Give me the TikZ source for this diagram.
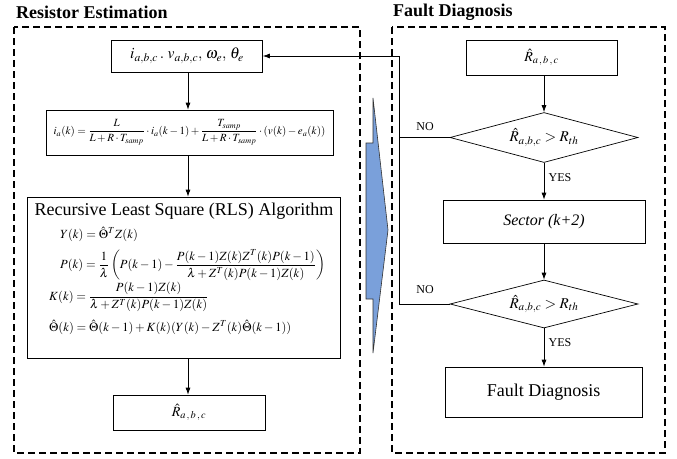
\documentclass[tikz,border=0pt]{standalone}
\usepackage{amsmath}
\usepackage{mathptmx}
\usepackage{fontspec}
\setmainfont{Liberation Serif}
\usetikzlibrary{arrows.meta,shapes.geometric}
\definecolor{arrowblue}{RGB}{122,160,218}
\begin{document}
\begin{tikzpicture}[x=1pt,y=-1pt,
  box/.style={draw,line width=0.7pt,inner sep=0pt,align=center},
  dbox/.style={draw,line width=1.1pt,dash pattern=on 7pt off 4pt},
  dec/.style={draw,line width=0.7pt,diamond,inner sep=0pt,minimum width=188pt,minimum height=50pt,aspect=3.76},
  arr/.style={line width=0.7pt,-{Latex[length=7pt,width=5pt]}},
  ln/.style={line width=0.7pt},
  ttl/.style={font=\fontsize{18}{21}\selectfont\bfseries,anchor=west,inner sep=0pt},
  lbl/.style={font=\fontsize{12}{14}\selectfont,inner sep=0pt},
  eqn/.style={anchor=west,inner sep=0pt,font=\fontsize{12.5}{15}\selectfont}]
\useasboundingbox (0,0) rectangle (677,458);
% titles
\node[ttl] (t1) at (16,12) {Resistor Estimation};
\node[ttl] (t2) at (393,12) {Fault Diagnosis};
% dashed panels
\draw[dbox] (14,27) rectangle (360,453);
\draw[dbox] (392,27) rectangle (665,453);
% left column
\node[box,minimum width=151pt,minimum height=32pt,font=\fontsize{15.6}{18}\selectfont] (in) at (187,56) {$i_{a,b,c}\,.\;v_{a,b,c},\,\omega_{e},\,\theta_{e}$};
\node[box,minimum width=287pt,minimum height=45pt,font=\fontsize{11}{13}\selectfont] (eq) at (189.5,132.5)
 {$i_a(k)=\dfrac{L}{L+R\cdot T_{samp}}\cdot i_a(k-1)+\dfrac{T_{samp}}{L+R\cdot T_{samp}}\cdot (v(k)-e_a(k))$};
\node[box,minimum width=313pt,minimum height=161pt] (rls) at (183.5,277.5) {};
\node[inner sep=0pt,font=\fontsize{18}{21}\selectfont] (rlst) at (184,211) {Recursive Least Square (RLS) Algorithm};
\node[eqn] (e1) at (60,234) {$Y(k)=\hat{\Theta}^{T}Z(k)$};
\node[eqn] (e2) at (60,265) {$P(k)=\dfrac{1}{\lambda}\left(P(k-1)-\dfrac{P(k-1)Z(k)Z^{T}(k)P(k-1)}{\lambda+Z^{T}(k)P(k-1)Z(k)}\right)$};
\node[eqn] (e3) at (49,297) {$K(k)=\dfrac{P(k-1)Z(k)}{\lambda+Z^{T}(k)P(k-1)Z(k)}$};
\node[eqn] (e4) at (49,327) {$\hat{\Theta}(k)=\hat{\Theta}(k-1)+K(k)(Y(k)-Z^{T}(k)\hat{\Theta}(k-1))$};
\node[box,minimum width=152pt,minimum height=35pt,font=\fontsize{14}{16}\selectfont] (rl) at (189,412.5) {$\hat{R}_{a\,,\,b\,,\,c}$};
\draw[arr] (in.south -| 188,0) -- (eq.north -| 188,0);
\draw[arr] (eq.south -| 188,0) -- (rls.north -| 188,0);
\draw[arr] (rls.south -| 188,0) -- (rl.north -| 188,0);
% blue arrow
\draw[fill=arrowblue,draw=black!80,line width=0.6pt] (366,143) -- (373,143) -- (373,98) -- (388,230) -- (373,353) -- (373,299) -- (366,299) -- cycle;
% right column
\node[box,minimum width=151pt,minimum height=35pt,font=\fontsize{14}{16}\selectfont] (rr) at (541.5,57.5) {$\hat{R}_{a\,,\,b\,,\,c}$};
\node[dec,font=\fontsize{15}{17}\selectfont] (d1) at (544,137.5) {$\hat{R}_{a,b,c}>R_{th}$};
\node[box,minimum width=202pt,minimum height=43pt,font=\fontsize{16}{19}\selectfont\itshape] (sec) at (544,221.5) {Sector (k+2)};
\node[dec,minimum height=48pt,font=\fontsize{15}{17}\selectfont] (d2) at (544,304) {$\hat{R}_{a,b,c}>R_{th}$};
\node[box,minimum width=197pt,minimum height=50pt,font=\fontsize{18}{21}\selectfont] (fd) at (543.5,392) {Fault Diagnosis};
\draw[arr] (rr.south -| 544,0) -- (d1.north);
\draw[arr] (d1.south) -- (sec.north -| 544,0);
\draw[arr] (sec.south -| 544,0) -- (d2.north);
\draw[arr] (d2.south) -- (fd.north -| 544,0);
\node[lbl] (y1) at (560,178) {YES};
\node[lbl] (y2) at (560,343) {YES};
\node[lbl] (n1) at (425,127) {NO};
\node[lbl] (n2) at (425,290) {NO};
% feedback
\coordinate (fbt) at (399,56);
\draw[arr] (d1.west) -| (fbt) -- (in.east);
\draw[ln] (d2.west) -| (fbt);
\end{tikzpicture}
\end{document}
